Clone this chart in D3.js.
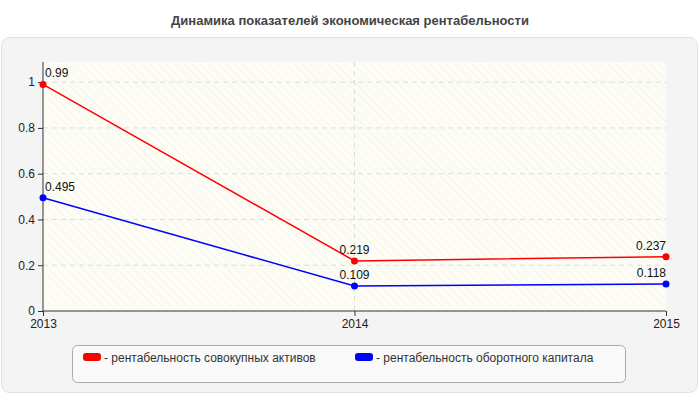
<!DOCTYPE html>
<html><head><meta charset="utf-8">
<script src="https://cdn.jsdelivr.net/npm/d3@7"></script>
<style>body{margin:0;background:#fff}text{font-family:Arial,"Liberation Sans",sans-serif}</style>
</head><body><div id="chart"></div>
<script>
const years = ["2013", "2014", "2015"];
const assets = [0.99, 0.219, 0.237];
const working = [0.495, 0.109, 0.118];
const yTicks = [0, 0.2, 0.4, 0.6, 0.8, 1];
const seriesNames = ["- рентабельность совокупных активов", "- рентабельность оборотного капитала"];
const colors = ["#ff0000", "#0000ff"];

const svg = d3.select("#chart").append("svg").attr("width", 700).attr("height", 400);

const defs = svg.append("defs");
const pat = defs.append("pattern").attr("id", "hatch").attr("patternUnits", "userSpaceOnUse")
    .attr("width", 6).attr("height", 6).attr("patternTransform", "rotate(-45)");
pat.append("rect").attr("width", 6).attr("height", 6).attr("fill", "#fdfdf6");
pat.append("line").attr("x1", 0).attr("y1", 0).attr("x2", 0).attr("y2", 6).attr("stroke", "#efefe8").attr("stroke-width", 1);

svg.append("text").attr("x", 350).attr("y", 25).attr("text-anchor", "middle")
    .attr("font-size", 13).attr("font-weight", "bold").attr("fill", "#444")
    .text("Динамика показателей экономическая рентабельности");

svg.append("rect").attr("x", 1.5).attr("y", 37.5).attr("width", 696).attr("height", 355).attr("rx", 8)
    .attr("fill", "#f4f4f4").attr("stroke", "#e2e2e2");

const pLeft = 43, pRight = 666, pTop = 62, pBottom = 311;
const x = d3.scalePoint().domain(years).range([pLeft, pRight]);
const y = d3.scaleLinear().domain([0, 1.088]).range([pBottom, pTop]);

svg.append("rect").attr("x", pLeft).attr("y", pTop).attr("width", pRight - pLeft).attr("height", pBottom - pTop)
    .attr("fill", "url(#hatch)");

svg.append("g").selectAll("line").data(yTicks.slice(1)).join("line")
    .attr("x1", pLeft).attr("x2", pRight).attr("y1", d => y(d)).attr("y2", d => y(d))
    .attr("stroke", "#ddd").attr("stroke-dasharray", "5,4");
svg.append("g").selectAll("line").data(years.slice(1, -1)).join("line")
    .attr("x1", d => x(d)).attr("x2", d => x(d)).attr("y1", pTop).attr("y2", pBottom)
    .attr("stroke", "#ddd").attr("stroke-dasharray", "5,4");

const ya = svg.append("g").attr("transform", `translate(${pLeft},0)`)
    .call(d3.axisLeft(y).tickValues(yTicks).tickSize(5).tickFormat(d3.format("")));
ya.select(".domain").attr("d", `M0,${pTop}V${pBottom}`);
const xa = svg.append("g").attr("transform", `translate(0,${pBottom})`)
    .call(d3.axisBottom(x).tickSize(5));
xa.select(".domain").attr("d", `M${pLeft},0H${pRight}`);
svg.selectAll(".tick text").attr("font-size", 12).attr("fill", "#222").attr("font-family", "Arial, sans-serif");
svg.selectAll(".domain, .tick line").attr("stroke", "#333");

const line = d3.line().x((d, i) => x(years[i])).y(d => y(d));
[assets, working].forEach((s, k) => {
    svg.append("path").attr("d", line(s)).attr("fill", "none").attr("stroke", colors[k]).attr("stroke-width", 1.5);
    svg.append("g").selectAll("circle").data(s).join("circle")
        .attr("cx", (d, i) => x(years[i])).attr("cy", d => y(d)).attr("r", 3.5).attr("fill", colors[k]);
    svg.append("g").selectAll("text").data(s).join("text")
        .attr("x", (d, i) => x(years[i]) + (i === 0 ? 2 : 0))
        .attr("y", d => y(d) - 7)
        .attr("text-anchor", (d, i) => i === 0 ? "start" : (i === years.length - 1 ? "end" : "middle"))
        .attr("font-size", 12).attr("fill", "#111").text(d => d);
});

svg.append("rect").attr("x", 72.5).attr("y", 345.5).attr("width", 553).attr("height", 37).attr("rx", 5)
    .attr("fill", "#fafafa").attr("stroke", "#aaa");
const lg = svg.append("g").selectAll("g").data(seriesNames).join("g")
    .attr("transform", (d, i) => `translate(${i === 0 ? 83 : 355},0)`);
lg.append("rect").attr("x", 0).attr("y", 353).attr("width", 18).attr("height", 8).attr("rx", 3)
    .attr("fill", (d, i) => colors[i]);
lg.append("text").attr("x", 21).attr("y", 361.5).attr("font-size", 12).attr("fill", "#333").text(d => d);
</script></body></html>
